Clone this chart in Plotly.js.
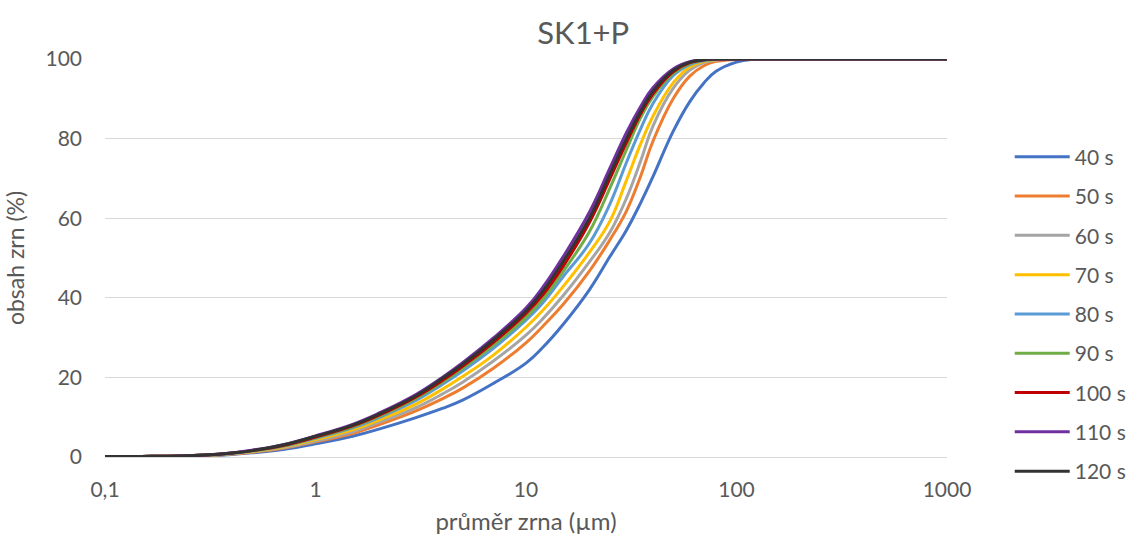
<!DOCTYPE html>
<html>
<head>
<meta charset="utf-8">
<script src="https://cdn.plot.ly/plotly-3.0.1.min.js"></script>
<style>
html,body{margin:0;padding:0;background:#fff;}
#chart{width:1126px;height:539px;}
</style>
</head>
<body>
<div id="chart"></div>
<script>
// grain diameter (µm)
const diameter = [0.1, 0.15, 0.2, 0.3, 0.4, 0.5, 0.7, 1, 1.5, 2, 3, 4, 5, 7, 10, 12, 15, 20, 25, 30, 35, 40, 50, 60, 70, 80, 100, 120, 150, 200, 300, 500, 700, 1000];

// cumulative grain content (%) per grinding time
const s40  = [0.1, 0.15, 0.2, 0.3, 0.65, 1.05, 1.9, 3.3, 5.2, 7.0, 9.9, 12.2, 14.3, 18.5, 23.6, 27.5, 33.3, 42.0, 50.3, 57.0, 63.8, 70.3, 81.8, 89.3, 94.0, 96.9, 99.2, 99.9, 100, 100, 100, 100, 100, 100];
const s50  = [0.1, 0.15, 0.2, 0.3, 0.75, 1.2, 2.2, 3.8, 5.9, 8.1, 11.6, 14.6, 17.3, 22.3, 28.7, 32.8, 38.3, 46.7, 54.5, 61.8, 70.5, 79.2, 90.0, 95.7, 98.3, 99.4, 99.9, 100, 100, 100, 100, 100, 100, 100];
const s60  = [0.1, 0.15, 0.2, 0.35, 0.8, 1.3, 2.3, 4.0, 6.3, 8.7, 12.4, 15.8, 18.8, 24.1, 30.6, 34.7, 40.5, 49.0, 56.4, 65.0, 74.3, 83.0, 92.6, 97.2, 99.1, 99.7, 100, 100, 100, 100, 100, 100, 100, 100];
const s70  = [0.1, 0.15, 0.2, 0.4, 0.85, 1.4, 2.5, 4.4, 6.8, 9.3, 13.3, 17.0, 20.2, 25.6, 32.6, 36.8, 42.8, 51.4, 59.2, 69.5, 78.6, 85.5, 94.0, 98.0, 99.4, 99.8, 100, 100, 100, 100, 100, 100, 100, 100];
const s80  = [0.1, 0.15, 0.2, 0.45, 0.9, 1.5, 2.7, 4.7, 7.3, 9.9, 14.2, 18.2, 21.6, 27.3, 34.4, 38.7, 45.3, 53.7, 63.5, 74.0, 82.4, 88.7, 95.8, 98.6, 99.6, 99.9, 100, 100, 100, 100, 100, 100, 100, 100];
const s90  = [0.1, 0.15, 0.2, 0.5, 0.95, 1.55, 2.8, 4.9, 7.6, 10.2, 14.7, 18.8, 22.3, 28.1, 35.1, 39.6, 46.6, 56.6, 67.5, 77.2, 85.2, 90.5, 96.4, 98.9, 99.7, 99.9, 100, 100, 100, 100, 100, 100, 100, 100];
const s100 = [0.1, 0.15, 0.2, 0.5, 1.0, 1.6, 2.9, 5.0, 7.8, 10.5, 15.1, 19.2, 22.8, 28.8, 36.1, 40.7, 47.9, 58.9, 69.8, 79.0, 86.2, 91.2, 96.8, 99.1, 99.8, 100, 100, 100, 100, 100, 100, 100, 100, 100];
const s110 = [0.1, 0.15, 0.2, 0.5, 1.0, 1.7, 3.1, 5.3, 8.2, 11.0, 15.7, 20.0, 23.7, 29.9, 37.4, 42.6, 50.3, 61.5, 72.5, 81.5, 88.0, 92.7, 97.5, 99.3, 99.8, 100, 100, 100, 100, 100, 100, 100, 100, 100];
const s120 = [0.1, 0.15, 0.2, 0.5, 1.0, 1.6, 3.0, 5.2, 8.0, 10.8, 15.4, 19.7, 23.3, 29.4, 36.7, 41.6, 49.1, 60.0, 71.0, 80.0, 86.8, 91.8, 97.1, 99.2, 99.8, 100, 100, 100, 100, 100, 100, 100, 100, 100];

const seriesNames = ['40 s', '50 s', '60 s', '70 s', '80 s', '90 s', '100 s', '110 s', '120 s'];
const seriesValues = [s40, s50, s60, s70, s80, s90, s100, s110, s120];
const seriesColors = ['#4472C4', '#ED7D31', '#A5A5A5', '#FFC000', '#5B9BD5', '#70AD47', '#C00000', '#7030A0', '#333333'];

const xTickVals = [0.1, 1, 10, 100, 1000];
const xTickText = ['0,1', '1', '10', '100', '1000'];

const FONT = 'Lato, "Open Sans", "Liberation Sans", sans-serif';
const GREY = '#595959';

const traces = seriesNames.map((name, i) => ({
  type: 'scatter',
  mode: 'lines',
  name: name,
  x: diameter,
  y: seriesValues[i],
  legendgroup: 'g' + i,
  line: {color: seriesColors[i], width: 3, shape: 'spline', smoothing: 1.2},
  hoverinfo: 'x+y+name'
}));

const layout = {
  width: 1126,
  height: 539,
  margin: {l: 105, r: 179, t: 59, b: 82, autoexpand: false},
  paper_bgcolor: '#ffffff',
  plot_bgcolor: '#ffffff',
  font: {family: FONT, color: GREY, size: 21},
  title: {
    text: 'SK1+P',
    font: {family: FONT, size: 31, color: GREY},
    x: 0.568, xref: 'paper', xanchor: 'center',
    y: 1 - 33 / 539, yref: 'container', yanchor: 'middle'
  },
  xaxis: {
    type: 'log',
    range: [-1, 3],
    tickvals: xTickVals,
    ticktext: xTickText,
    showgrid: false,
    zeroline: false,
    showline: true,
    linecolor: '#d9d9d9',
    linewidth: 1,
    ticks: '',
    ticklabelstandoff: 14,
    tickfont: {family: FONT, size: 21, color: GREY},
    title: {text: 'průměr zrna (µm)', font: {family: FONT, size: 24, color: GREY}, standoff: 12}
  },
  yaxis: {
    range: [0, 100],
    dtick: 20,
    showgrid: true,
    gridcolor: '#d9d9d9',
    gridwidth: 1,
    zeroline: false,
    showline: false,
    ticks: '',
    ticklabelstandoff: 22,
    tickfont: {family: FONT, size: 21, color: GREY},
    title: {text: 'obsah zrn (%)', font: {family: FONT, size: 23, color: GREY}, standoff: 14}
  },
  legend: {
    x: 1.0745, xanchor: 'left',
    y: 0.805, yanchor: 'top',
    traceorder: 'grouped',
    tracegroupgap: 9,
    itemwidth: 55,
    font: {family: FONT, size: 21, color: GREY},
    bgcolor: 'rgba(0,0,0,0)'
  },
  showlegend: true
};

Plotly.newPlot('chart', traces, layout, {displayModeBar: false, staticPlot: true});
</script>
</body>
</html>
